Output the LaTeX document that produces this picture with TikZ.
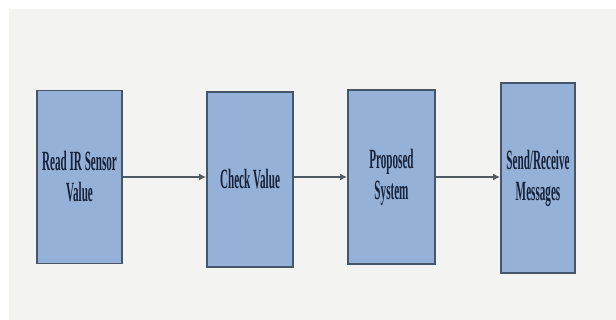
\documentclass[tikz,border=0pt]{standalone}
\usepackage{fontspec}
\setmainfont{Liberation Serif}
\usetikzlibrary{arrows.meta}
\definecolor{boxfill}{HTML}{95B1D8}
\definecolor{boxline}{HTML}{46566A}
\definecolor{txtcol}{HTML}{16223A}
\definecolor{arrcol}{HTML}{505A62}
\definecolor{panel}{HTML}{F3F3F1}
\newcommand{\squeezed}[1]{\scalebox{0.44}[1.1]{#1}}
\begin{document}
\begin{tikzpicture}[x=0.025cm,y=-0.025cm,
        block/.style={draw=boxline,fill=boxfill,line width=1.3pt,inner sep=0pt,
            text=txtcol,font=\fontsize{18}{22}\selectfont\bfseries,align=center},
        flow/.style={draw=arrcol,line width=1.4pt,-{Latex[length=5pt,width=5pt]}}]
        \useasboundingbox (0,0) rectangle (616,320);
        \fill[panel] (9,9) rectangle (616,320);
        \node[block,minimum width=85*0.025cm,minimum height=173*0.025cm] (read) at (79.5,177)
            {\squeezed{Read IR Sensor}\\\squeezed{Value}};
        \node[block,minimum width=86*0.025cm,minimum height=175*0.025cm] (check) at (250,179.5)
            {\squeezed{Check Value}};
        \node[block,minimum width=87*0.025cm,minimum height=174*0.025cm] (prop) at (391.5,177)
            {\squeezed{Proposed}\\\squeezed{System}};
        \node[block,minimum width=74*0.025cm,minimum height=190*0.025cm] (send) at (538,178)
            {\squeezed{Send/Receive}\\\squeezed{Messages}};
        \draw[flow] (read.east) -- (read.east -| check.west);
        \draw[flow] (check.east |- prop.east) -- (prop.west);
        \draw[flow] (prop.east) -- (prop.east -| send.west);
    \end{tikzpicture}
\end{document}
